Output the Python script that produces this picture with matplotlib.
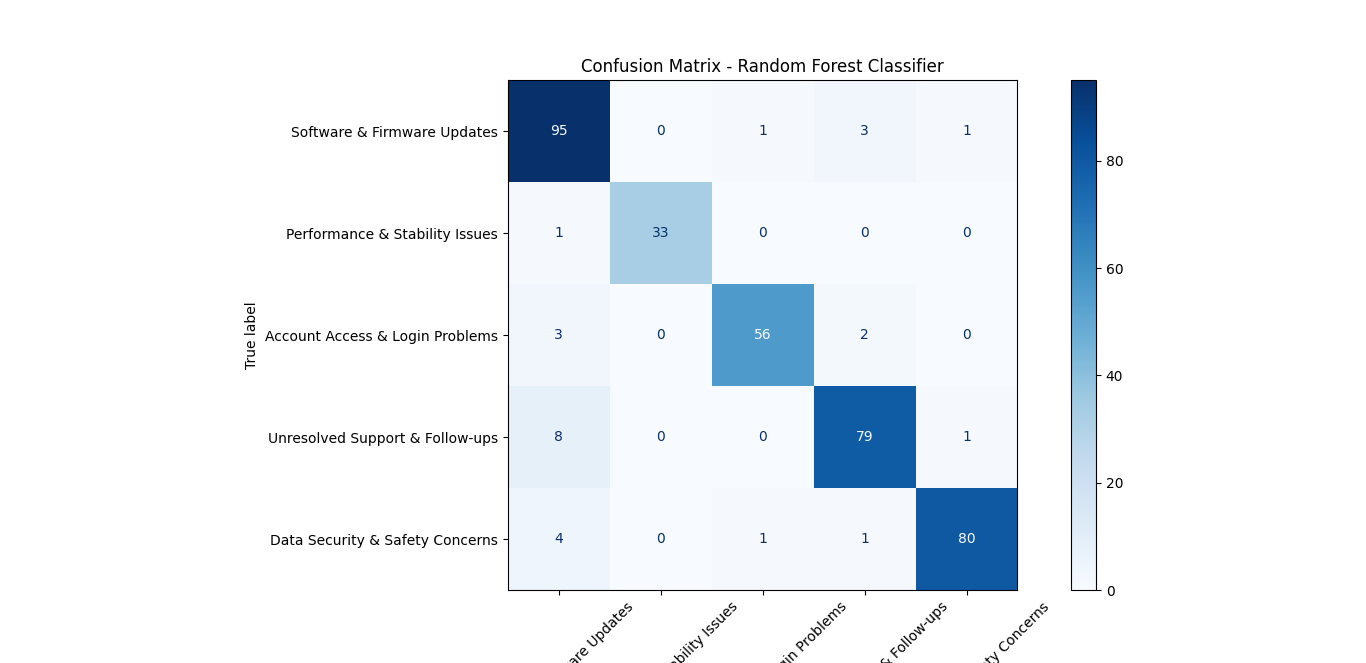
import numpy as np
import matplotlib.pyplot as plt

labels = [
    "Software & Firmware Updates",
    "Performance & Stability Issues",
    "Account Access & Login Problems",
    "Unresolved Support & Follow-ups",
    "Data Security & Safety Concerns",
]
cm = np.array([
    [95, 0, 1, 3, 1],
    [1, 33, 0, 0, 0],
    [3, 0, 56, 2, 0],
    [8, 0, 0, 79, 1],
    [4, 0, 1, 1, 80],
])

fig = plt.figure(figsize=(13.66, 6.63), dpi=100)
ax = fig.add_axes([0.3712, 0.110, 0.3741, 0.769])
cax = fig.add_axes([0.784, 0.110, 0.0183, 0.769])

im = ax.imshow(cm, cmap="Blues", interpolation="nearest")
fig.colorbar(im, cax=cax)

thresh = (cm.max() + cm.min()) / 2
cmap_min, cmap_max = im.cmap(0), im.cmap(1.0)
for i in range(cm.shape[0]):
    for j in range(cm.shape[1]):
        color = cmap_min if cm[i, j] > thresh else cmap_max
        ax.text(j, i, str(cm[i, j]), ha="center", va="center", color=color)

ax.set_xticks(range(len(labels)))
ax.set_xticklabels(labels, rotation=45)
ax.set_yticks(range(len(labels)))
ax.set_yticklabels(labels)
ax.set_xlabel("Predicted label")
ax.set_ylabel("True label")
ax.set_title("Confusion Matrix - Random Forest Classifier")

fig.savefig("out.png", dpi=100)
